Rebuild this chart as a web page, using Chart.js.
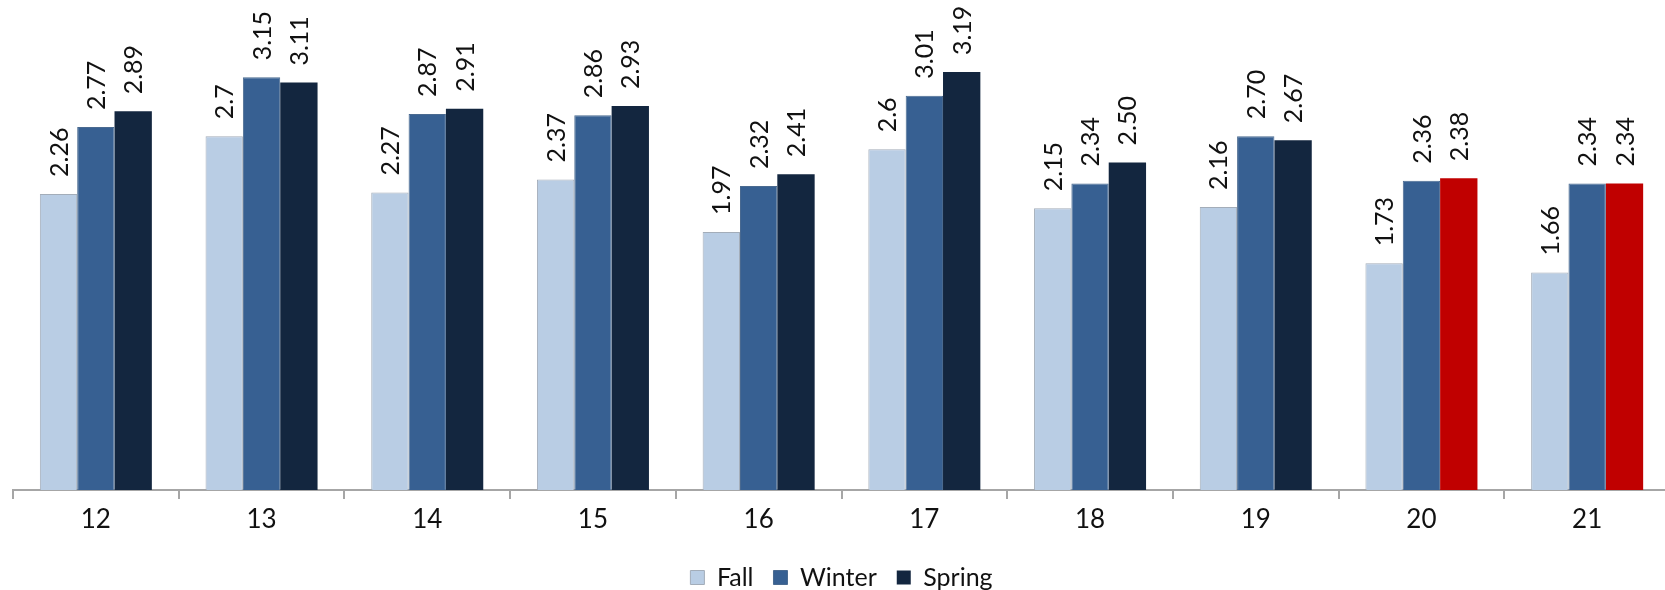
<!DOCTYPE html>
<html>
<head>
<meta charset="utf-8">
<script src="https://cdn.jsdelivr.net/npm/chart.js@4/dist/chart.umd.min.js"></script>
<style>
  html, body { margin: 0; padding: 0; background: #fff; overflow: hidden; }
  #wrap { position: absolute; left: 0; top: 0; width: 1672px; height: 590px; }
</style>
</head>
<body>
<div id="wrap"><canvas id="c" width="1672" height="590"></canvas></div>
<script>
const categories = ['12', '13', '14', '15', '16', '17', '18', '19', '20', '21'];
const fallValues   = [2.26, 2.7, 2.27, 2.37, 1.97, 2.6, 2.15, 2.16, 1.73, 1.66];
const winterValues = [2.77, 3.15, 2.87, 2.86, 2.32, 3.01, 2.34, 2.70, 2.36, 2.34];
const springValues = [2.89, 3.11, 2.91, 2.93, 2.41, 3.19, 2.50, 2.67, 2.38, 2.34];
const fallLabels   = ['2.26', '2.7', '2.27', '2.37', '1.97', '2.6', '2.15', '2.16', '1.73', '1.66'];
const winterLabels = ['2.77', '3.15', '2.87', '2.86', '2.32', '3.01', '2.34', '2.70', '2.36', '2.34'];
const springLabels = ['2.89', '3.11', '2.91', '2.93', '2.41', '3.19', '2.50', '2.67', '2.38', '2.34'];
const highlightedCategories = ['20', '21'];

const FONT = 'Lato, "Open Sans", sans-serif';
const valueLabels = [fallLabels, winterLabels, springLabels];

const barLabelPlugin = {
  id: 'barLabels',
  afterDatasetsDraw(chart) {
    const ctx = chart.ctx;
    ctx.save();
    ctx.fillStyle = '#111';
    ctx.font = '25px ' + FONT;
    ctx.textAlign = 'left';
    ctx.textBaseline = 'middle';
    chart.data.datasets.forEach((ds, i) => {
      const meta = chart.getDatasetMeta(i);
      meta.data.forEach((bar, j) => {
        ctx.save();
        ctx.translate(bar.x + 1, bar.y - 17);
        ctx.rotate(-Math.PI / 2);
        ctx.fillText(valueLabels[i][j], 0, 0);
        ctx.restore();
      });
    });
    ctx.restore();
  }
};

const springColor = (c) => {
  const lab = c.chart.data.labels[c.dataIndex];
  return highlightedCategories.includes(lab) ? '#c00000' : '#13263f';
};

new Chart(document.getElementById('c'), {
  type: 'bar',
  data: {
    labels: categories,
    datasets: [
      { label: 'Fall', data: fallValues, backgroundColor: '#b9cde4', borderColor: '#a3adb9', borderWidth: 1 },
      { label: 'Winter', data: winterValues, backgroundColor: '#376092', borderColor: '#4a6a90', borderWidth: 1 },
      { label: 'Spring', data: springValues, backgroundColor: springColor, borderColor: '#44546a', borderWidth: 0 }
    ]
  },
  options: {
    responsive: false,
    animation: false,
    devicePixelRatio: 1,
    layout: { padding: { left: 13, right: 2, top: 0, bottom: 0 } },
    datasets: { bar: { categoryPercentage: 0.676, barPercentage: 1 } },
    scales: {
      x: {
        grid: { display: true, drawOnChartArea: false, drawTicks: true, tickLength: 9, color: '#a6a6a6', lineWidth: 2, offset: true },
        border: { display: true, color: '#a6a6a6', width: 2 },
        ticks: { color: '#111', font: { family: FONT, size: 26 }, padding: 5 },
        afterFit: (s) => { s.height = 55; }
      },
      y: {
        display: false,
        min: 0,
        max: 3.74
      }
    },
    plugins: {
      legend: {
        position: 'bottom',
        maxHeight: 45,
        labels: {
          boxWidth: 14,
          boxHeight: 14,
          padding: 20,
          color: '#111',
          font: { family: FONT, size: 25 }
        }
      },
      tooltip: { enabled: false }
    }
  },
  plugins: [barLabelPlugin]
});
</script>
</body>
</html>
